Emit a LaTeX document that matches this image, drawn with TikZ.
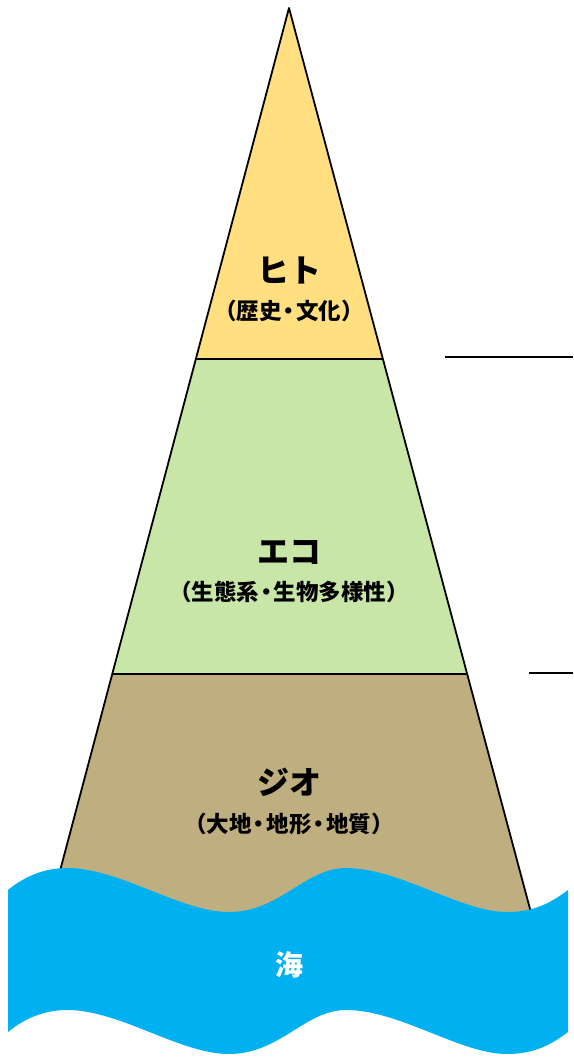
\documentclass[tikz,border=0pt]{standalone}
\usepackage{fontspec}
\setmainfont{Noto Sans CJK JP}
\newcommand{\ndot}{\hspace{-0.17em}・\hspace{-0.17em}}
\definecolor{hito}{RGB}{255,223,128}
\definecolor{eco}{RGB}{200,230,168}
\definecolor{geo}{RGB}{191,175,128}
\definecolor{umi}{RGB}{0,176,240}
\tikzset{
  edge/.style={draw=black,line width=1.8pt,line join=round},
  sep/.style={draw=black,line width=1.3pt},
  title/.style={font=\bfseries\fontsize{32}{34}\selectfont,inner sep=0pt},
  sub/.style={font=\bfseries\fontsize{22.5}{24}\selectfont,inner sep=0pt},
}
\begin{document}
\begin{tikzpicture}[x=1pt,y=-1pt]
\useasboundingbox (0,0) rectangle (573,1057);
% coordinates of the pyramid
\coordinate (apex) at (289,8);
\coordinate (l1) at (196,359);
\coordinate (r1) at (383,359);
\coordinate (l2) at (112,674);
\coordinate (r2) at (467,674);
\coordinate (l3) at (39,950);
\coordinate (r3) at (541,950);
% fills
\fill[hito] (apex) -- (l1) -- (r1) -- cycle;
\fill[eco] (l1) -- (l2) -- (r2) -- (r1) -- cycle;
\fill[geo] (l2) -- (l3) -- (r3) -- (r2) -- cycle;
% outlines
\draw[edge] (l3) -- (apex) -- (r3);
\draw[sep] (l1) -- (r1);
\draw[sep] (l2) -- (r2);
% right side lines
\coordinate (a1) at (445,357);
\coordinate (a2) at (573,357);
\coordinate (b1) at (529,673);
\coordinate (b2) at (573,673);
\draw[sep] (a1) -- (a2);
\draw[sep] (b1) -- (b2);
% texts
\node[title] (hito) at (289,270) {ヒト};
\node[sub] (hitosub) at (289,311) {（歴史\ndot 文化）};
\node[title] (eco) at (289,552) {エコ};
\node[sub] (ecosub) at (289,592) {（生態系\ndot 生物多様性）};
\node[title] (geo) at (289,782) {ジオ};
\node[sub] (geosub) at (289,824) {（大地\ndot 地形\ndot 地質）};
% sea
\fill[umi] (8,890) .. controls (25,876) and (45,868) .. (67,868)
  .. controls (120,868) and (180,912) .. (229,912)
  .. controls (280,912) and (305,868) .. (346,868)
  .. controls (400,868) and (460,912) .. (507,912)
  .. controls (535,912) and (552,902) .. (568,890)
  -- (568,1032)
  .. controls (552,1044) and (535,1054) .. (507,1054)
  .. controls (460,1054) and (400,1010) .. (346,1010)
  .. controls (305,1010) and (280,1054) .. (229,1054)
  .. controls (180,1054) and (120,1010) .. (67,1010)
  .. controls (45,1010) and (25,1018) .. (8,1032) -- cycle;
\node[font=\bfseries\fontsize{28}{30}\selectfont,text=white,inner sep=0pt] (umi) at (289,965) {海};
\end{tikzpicture}
\end{document}
